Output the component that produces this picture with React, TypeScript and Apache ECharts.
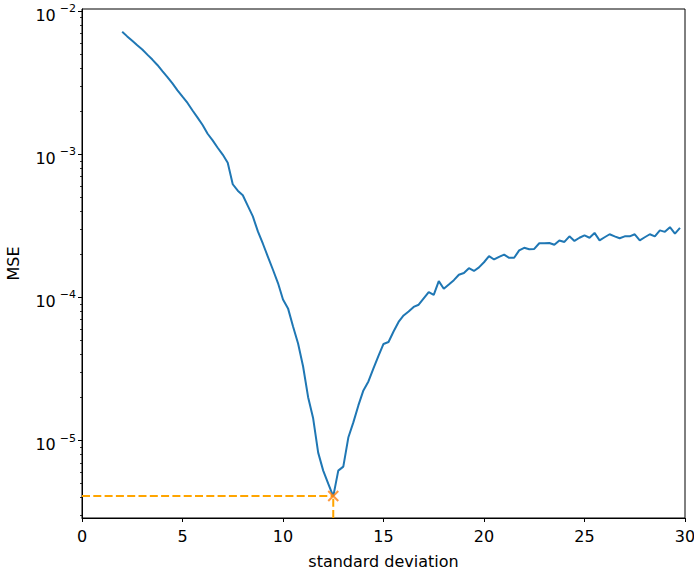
import React, { useEffect, useRef } from "react";
import * as echarts from "echarts";

// standard deviation values (x)
const sigmas = [
  2, 2.25, 2.5, 2.75, 3, 3.25, 3.5, 3.75, 4, 4.25, 4.5, 4.75, 5, 5.25, 5.5, 5.75,
  6, 6.25, 6.5, 6.75, 7, 7.25, 7.5, 7.75, 8, 8.25, 8.5, 8.75, 9, 9.25, 9.5, 9.75,
  10, 10.25, 10.5, 10.75, 11, 11.25, 11.5, 11.75, 12, 12.25, 12.5, 12.75, 13, 13.25, 13.5, 13.75,
  14, 14.25, 14.5, 14.75, 15, 15.25, 15.5, 15.75, 16, 16.25, 16.5, 16.75, 17, 17.25, 17.5, 17.75,
  18, 18.25, 18.5, 18.75, 19, 19.25, 19.5, 19.75, 20, 20.25, 20.5, 20.75, 21, 21.25, 21.5, 21.75,
  22, 22.25, 22.5, 22.75, 23, 23.25, 23.5, 23.75, 24, 24.25, 24.5, 24.75, 25, 25.25, 25.5, 25.75,
  26, 26.25, 26.5, 26.75, 27, 27.25, 27.5, 27.75, 28, 28.25, 28.5, 28.75, 29, 29.25, 29.5, 29.75,
];

// MSE values (y)
const mseValues = [
  7.17e-3, 6.65e-3, 6.19e-3, 5.76e-3, 5.38e-3, 4.96e-3, 4.58e-3, 4.2e-3,
  3.81e-3, 3.46e-3, 3.12e-3, 2.79e-3, 2.52e-3, 2.28e-3, 2.02e-3, 1.8e-3,
  1.6e-3, 1.39e-3, 1.25e-3, 1.11e-3, 9.94e-4, 8.72e-4, 6.17e-4, 5.56e-4,
  5.17e-4, 4.36e-4, 3.68e-4, 2.89e-4, 2.37e-4, 1.92e-4, 1.56e-4, 1.26e-4,
  9.68e-5, 8.38e-5, 6.27e-5, 4.77e-5, 3.29e-5, 2.01e-5, 1.43e-5, 8.24e-6,
  6.17e-6, 5.0e-6, 4.08e-6, 6.17e-6, 6.58e-6, 1.05e-5, 1.34e-5, 1.76e-5,
  2.24e-5, 2.59e-5, 3.19e-5, 3.9e-5, 4.73e-5, 4.88e-5, 5.78e-5, 6.74e-5,
  7.48e-5, 7.98e-5, 8.58e-5, 8.89e-5, 9.84e-5, 1.09e-4, 1.04e-4, 1.3e-4,
  1.15e-4, 1.23e-4, 1.32e-4, 1.44e-4, 1.48e-4, 1.6e-4, 1.53e-4, 1.62e-4,
  1.76e-4, 1.94e-4, 1.84e-4, 1.92e-4, 1.99e-4, 1.89e-4, 1.89e-4, 2.13e-4,
  2.22e-4, 2.17e-4, 2.18e-4, 2.39e-4, 2.39e-4, 2.4e-4, 2.33e-4, 2.5e-4,
  2.44e-4, 2.67e-4, 2.48e-4, 2.61e-4, 2.71e-4, 2.61e-4, 2.82e-4, 2.5e-4,
  2.63e-4, 2.76e-4, 2.67e-4, 2.59e-4, 2.67e-4, 2.67e-4, 2.76e-4, 2.5e-4,
  2.63e-4, 2.76e-4, 2.67e-4, 2.94e-4, 2.87e-4, 3.09e-4, 2.79e-4, 3.06e-4,
];

// best point
const bestSigma = 12.5;
const bestMse = 4.1e-6;

// axis ranges and ticks
const xMin = 0;
const xMax = 30;
const xStep = 5;
const yMin = 2.88e-6;
const yMax = 1.033e-2;
const yMajorTicks = [1e-5, 1e-4, 1e-3, 1e-2];
const yMinorTicks = [
  3e-6, 4e-6, 5e-6, 6e-6, 7e-6, 8e-6, 9e-6,
  2e-5, 3e-5, 4e-5, 5e-5, 6e-5, 7e-5, 8e-5, 9e-5,
  2e-4, 3e-4, 4e-4, 5e-4, 6e-4, 7e-4, 8e-4, 9e-4,
  2e-3, 3e-3, 4e-3, 5e-3, 6e-3, 7e-3, 8e-3, 9e-3,
];

const FONT = "DejaVu Sans";
const FS = 16;

export default function App() {
  const ref = useRef<HTMLDivElement>(null);

  useEffect(() => {
    if (!ref.current) return;
    const chart = echarts.init(ref.current, null, { renderer: "svg" });

    const option: any = {
      animation: false,
      backgroundColor: "#fff",
      textStyle: { fontFamily: FONT },
      grid: {
        left: 82,
        right: 9,
        top: 9,
        bottom: 55,
        containLabel: false,
        outerBoundsMode: "none",
        show: true,
        borderColor: "#000",
        borderWidth: 1,
        backgroundColor: "transparent",
      },
      xAxis: {
        type: "value",
        min: xMin,
        max: xMax,
        interval: xStep,
        name: "standard deviation",
        nameLocation: "middle",
        nameGap: 35,
        nameTextStyle: { fontFamily: FONT, fontSize: FS, color: "#000" },
        axisLine: { show: true, onZero: false, lineStyle: { color: "#000", width: 1 } },
        axisTick: { show: true, inside: false, length: 4, lineStyle: { color: "#000", width: 1 } },
        axisLabel: { color: "#000", fontSize: FS, fontFamily: FONT, margin: 10, hideOverlap: false },
        splitLine: { show: false },
      },
      yAxis: [
        {
          type: "log",
          logBase: 10,
          min: yMin,
          max: yMax,
          name: "MSE",
          nameLocation: "middle",
          nameGap: 61,
          nameRotate: 90,
          nameTextStyle: { fontFamily: FONT, fontSize: FS, color: "#000" },
          axisLine: { show: true, lineStyle: { color: "#000", width: 1 } },
          axisTick: {
            show: true,
            inside: false,
            length: 4,
            customValues: yMajorTicks,
            lineStyle: { color: "#000", width: 1 },
          },
          axisLabel: {
            customValues: yMajorTicks,
            margin: 6,
            color: "#000",
            fontFamily: FONT,
            formatter: (v: number) => {
              const e = Math.round(Math.log10(v));
              return "{b|10}{s|" + (e < 0 ? "\u2212" : "") + Math.abs(e) + "}";
            },
            rich: {
              b: { fontSize: FS, fontFamily: FONT, color: "#000", lineHeight: 16, padding: [8, 3, 0, 0] },
              s: { fontSize: 11, fontFamily: FONT, color: "#000", lineHeight: 11, padding: [0, 0, 0, 1], verticalAlign: "top" },
            },
          },
          splitLine: { show: false },
        },
        {
          type: "log",
          logBase: 10,
          min: yMin,
          max: yMax,
          position: "left",
          axisLine: { show: false },
          axisTick: {
            show: true,
            inside: false,
            length: 2,
            customValues: yMinorTicks,
            lineStyle: { color: "#000", width: 0.8 },
          },
          axisLabel: { show: false },
          splitLine: { show: false },
        },
      ],
      series: [
        {
          type: "line",
          data: sigmas.map((s, i) => [s, mseValues[i]]),
          showSymbol: false,
          symbol: "none",
          lineStyle: { color: "#1f77b4", width: 2 },
          itemStyle: { color: "#1f77b4" },
          z: 2,
        },
        {
          type: "line",
          data: [
            [xMin, bestMse],
            [bestSigma, bestMse],
          ],
          showSymbol: false,
          symbol: "none",
          lineStyle: { color: "#FFA500", width: 2, type: [8, 3.3] },
          z: 3,
        },
        {
          type: "line",
          data: [
            [bestSigma, yMin],
            [bestSigma, bestMse],
          ],
          showSymbol: false,
          symbol: "none",
          lineStyle: { color: "#FFA500", width: 2, type: [8, 3.3] },
          z: 3,
        },
        {
          type: "scatter",
          data: [[bestSigma, bestMse]],
          symbol: "path://M0,0L10,10M10,0L0,10",
          symbolSize: 10,
          itemStyle: { color: "none", borderColor: "#ff7f0e", borderWidth: 2 },
          z: 4,
        },
      ],
    };

    chart.setOption(option);
    return () => chart.dispose();
  }, []);

  return (
    <div
      ref={ref}
      style={{ position: "fixed", left: 0, top: 0, width: 694, height: 573, background: "#fff" }}
    />
  );
}
